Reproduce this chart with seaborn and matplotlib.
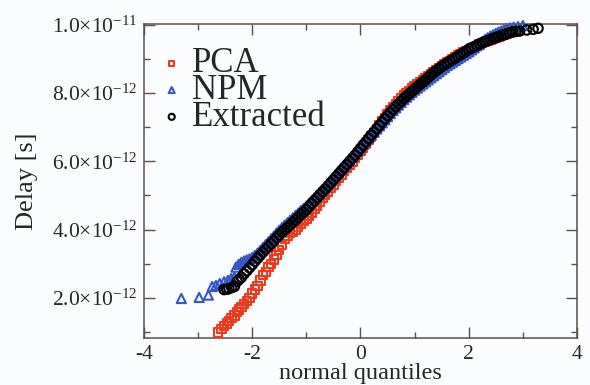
import numpy as np
import pandas as pd
import matplotlib
matplotlib.use("Agg")
import matplotlib.pyplot as plt
from matplotlib.ticker import MultipleLocator, FuncFormatter
import seaborn as sns

# delays in ps (1e-12 s), x = normal quantiles
pca_q = [-2.63, -2.57, -2.52, -2.47, -2.43, -2.38, -2.33, -2.28, -2.24, -2.20,
         -2.15, -2.10, -2.05, -2.00, -1.95, -1.90, -1.85, -1.80, -1.75, -1.70,
         -1.65, -1.60, -1.55, -1.50, -1.45, -1.40, -1.35, -1.30, -1.25, -1.20,
         -1.15, -1.10, -1.05, -1.00, -0.95, -0.90, -0.85, -0.80, -0.75, -0.70,
         -0.65, -0.60, -0.55, -0.50, -0.45, -0.40, -0.35, -0.30, -0.25, -0.20,
         -0.15, -0.10, -0.05, 0.00, 0.05, 0.10, 0.15, 0.20, 0.25, 0.30,
         0.35, 0.40, 0.45, 0.50, 0.55, 0.60, 0.65, 0.70, 0.75, 0.80,
         0.85, 0.90, 0.95, 1.00, 1.05, 1.10, 1.15, 1.20, 1.25, 1.30,
         1.35, 1.40, 1.45, 1.50, 1.55, 1.60, 1.65, 1.70, 1.75, 1.80,
         1.85, 1.90, 1.95, 2.00, 2.05, 2.10, 2.15, 2.20, 2.25, 2.30,
         2.35, 2.40, 2.45, 2.50, 2.55, 2.60, 2.65, 2.70, 2.76, 2.83, 2.90]
pca_ps = [0.98, 1.08, 1.17, 1.25, 1.32, 1.40, 1.48, 1.58, 1.66, 1.73,
          1.81, 1.90, 2.00, 2.13, 2.24, 2.35, 2.51, 2.66, 2.76, 2.90,
          3.00, 3.12, 3.26, 3.40, 3.55, 3.72, 3.82, 3.89, 3.94, 3.99,
          4.07, 4.16, 4.25, 4.32, 4.40, 4.50, 4.60, 4.70, 4.81, 4.92,
          5.02, 5.12, 5.22, 5.32, 5.42, 5.52, 5.61, 5.71, 5.80, 5.90,
          6.00, 6.10, 6.20, 6.30, 6.41, 6.52, 6.62, 6.73, 6.84, 6.95,
          7.06, 7.17, 7.28, 7.39, 7.49, 7.59, 7.68, 7.77, 7.85, 7.93,
          8.00, 8.07, 8.14, 8.20, 8.26, 8.32, 8.38, 8.44, 8.50, 8.56,
          8.62, 8.68, 8.74, 8.80, 8.85, 8.90, 8.95, 9.00, 9.05, 9.10,
          9.15, 9.19, 9.23, 9.27, 9.31, 9.35, 9.39, 9.43, 9.46, 9.49,
          9.52, 9.55, 9.58, 9.61, 9.64, 9.67, 9.70, 9.73, 9.76, 9.80, 9.83]

npm_q = [-3.31, -2.98, -2.81, -2.74, -2.67, -2.60, -2.52, -2.45, -2.39, -2.33,
         -2.30, -2.25, -2.20, -2.15, -2.10, -2.05, -2.00, -1.95, -1.90, -1.85,
         -1.80, -1.75, -1.70, -1.65, -1.60, -1.55, -1.50, -1.45, -1.40, -1.35,
         -1.30, -1.25, -1.20, -1.15, -1.10, -1.05, -1.00, -0.95, -0.90, -0.85,
         -0.80, -0.75, -0.70, -0.65, -0.60, -0.55, -0.50, -0.45, -0.40, -0.35,
         -0.30, -0.25, -0.20, -0.15, -0.10, -0.05, 0.00, 0.05, 0.10, 0.15,
         0.20, 0.25, 0.30, 0.35, 0.40, 0.45, 0.50, 0.55, 0.60, 0.65,
         0.70, 0.75, 0.80, 0.85, 0.90, 0.95, 1.00, 1.05, 1.10, 1.15,
         1.20, 1.25, 1.30, 1.35, 1.40, 1.45, 1.50, 1.55, 1.60, 1.65,
         1.70, 1.75, 1.80, 1.85, 1.90, 1.95, 2.00, 2.05, 2.10, 2.15,
         2.20, 2.25, 2.30, 2.35, 2.40, 2.45, 2.50, 2.55, 2.60, 2.65,
         2.70, 2.76, 2.83, 2.91, 3.00]
npm_ps = [1.98, 2.01, 2.08, 2.33, 2.36, 2.42, 2.47, 2.51, 2.56, 2.60,
          2.90, 2.98, 3.04, 3.08, 3.11, 3.14, 3.18, 3.24, 3.31, 3.39,
          3.48, 3.56, 3.64, 3.73, 3.81, 3.90, 3.98, 4.06, 4.13, 4.20,
          4.27, 4.34, 4.41, 4.48, 4.56, 4.62, 4.69, 4.77, 4.85, 4.93,
          5.01, 5.09, 5.17, 5.25, 5.33, 5.42, 5.51, 5.59, 5.68, 5.76,
          5.85, 5.94, 6.03, 6.12, 6.21, 6.30, 6.40, 6.49, 6.58, 6.68,
          6.77, 6.86, 6.95, 7.04, 7.13, 7.22, 7.31, 7.40, 7.49, 7.57,
          7.65, 7.73, 7.81, 7.88, 7.95, 8.02, 8.09, 8.15, 8.21, 8.27,
          8.33, 8.39, 8.45, 8.51, 8.57, 8.63, 8.69, 8.75, 8.81, 8.86,
          8.91, 8.96, 9.01, 9.06, 9.11, 9.16, 9.21, 9.27, 9.33, 9.39,
          9.45, 9.51, 9.57, 9.62, 9.67, 9.71, 9.75, 9.79, 9.82, 9.85,
          9.88, 9.91, 9.93, 9.95, 9.98]

ext_q = [-2.52, -2.47, -2.43, -2.38, -2.33, -2.28, -2.24, -2.20, -2.15, -2.10,
         -2.05, -2.00, -1.95, -1.90, -1.85, -1.80, -1.75, -1.70, -1.65, -1.60,
         -1.55, -1.50, -1.45, -1.40, -1.35, -1.30, -1.25, -1.20, -1.15, -1.10,
         -1.05, -1.00, -0.95, -0.90, -0.85, -0.80, -0.75, -0.70, -0.65, -0.60,
         -0.55, -0.50, -0.45, -0.40, -0.35, -0.30, -0.25, -0.20, -0.15, -0.10,
         -0.05, 0.00, 0.05, 0.10, 0.15, 0.20, 0.25, 0.30, 0.35, 0.40,
         0.45, 0.50, 0.55, 0.60, 0.65, 0.70, 0.75, 0.80, 0.85, 0.90,
         0.95, 1.00, 1.05, 1.10, 1.15, 1.20, 1.25, 1.30, 1.35, 1.40,
         1.45, 1.50, 1.55, 1.60, 1.65, 1.70, 1.75, 1.80, 1.85, 1.90,
         1.95, 2.00, 2.05, 2.10, 2.15, 2.20, 2.25, 2.30, 2.35, 2.40,
         2.45, 2.50, 2.55, 2.60, 2.65, 2.70, 2.75, 2.81, 2.87, 2.94,
         3.07, 3.19, 3.28]
ext_ps = [2.24, 2.25, 2.27, 2.30, 2.33, 2.48, 2.54, 2.60, 2.70, 2.79,
          2.88, 2.97, 3.07, 3.16, 3.25, 3.34, 3.42, 3.50, 3.59, 3.67,
          3.76, 3.84, 3.92, 3.99, 4.06, 4.13, 4.21, 4.28, 4.36, 4.44,
          4.51, 4.58, 4.67, 4.76, 4.84, 4.93, 5.02, 5.11, 5.19, 5.28,
          5.37, 5.46, 5.55, 5.64, 5.73, 5.82, 5.91, 6.00, 6.09, 6.18,
          6.28, 6.38, 6.48, 6.57, 6.67, 6.77, 6.86, 6.96, 7.05, 7.15,
          7.25, 7.34, 7.43, 7.52, 7.60, 7.68, 7.76, 7.84, 7.91, 7.98,
          8.05, 8.12, 8.19, 8.26, 8.32, 8.39, 8.46, 8.53, 8.60, 8.66,
          8.72, 8.78, 8.83, 8.88, 8.93, 8.98, 9.03, 9.08, 9.13, 9.18,
          9.23, 9.28, 9.32, 9.36, 9.40, 9.44, 9.48, 9.51, 9.54, 9.57,
          9.60, 9.63, 9.66, 9.69, 9.71, 9.74, 9.77, 9.80, 9.81, 9.82,
          9.85, 9.87, 9.90]

sns.set_style("ticks")
plt.rcParams["font.family"] = ["Liberation Serif", "DejaVu Serif"]
plt.rcParams["mathtext.fontset"] = "custom"
plt.rcParams["mathtext.rm"] = "Liberation Serif"
plt.rcParams["mathtext.it"] = "Liberation Serif:italic"

frame = "#5e4e48"
bg = "#fbfcfe"

fig = plt.figure(figsize=(5.9, 3.85), dpi=100, facecolor=bg)
ax = fig.add_axes([0.244, 0.122, 0.734, 0.816])
ax.set_facecolor(bg)

series = [
    ("PCA", pca_q, pca_ps, "s", "#ee3a1f", 36),
    ("NPM", npm_q, npm_ps, "^", "#3557c8", 44),
    ("Extracted", ext_q, ext_ps, "o", "black", 46),
]
for name, q, ps, mk, col, size in series:
    df = pd.DataFrame({"q": q, "delay": np.array(ps) * 1e-12})
    sns.scatterplot(data=df, x="q", y="delay", ax=ax, marker=mk, s=size,
                    facecolor="none", edgecolor=col, linewidth=1.5,
                    label=name, clip_on=False, zorder=3)

ax.set_xlim(-4, 4)
ax.set_ylim(0.82e-12, 10.03e-12)
ax.xaxis.set_major_locator(MultipleLocator(2))
ax.xaxis.set_minor_locator(MultipleLocator(1))
ax.yaxis.set_major_locator(MultipleLocator(2e-12))
ax.yaxis.set_minor_locator(MultipleLocator(1e-12))


def sci(v, pos):
    if v <= 0:
        return ""
    e = int(np.floor(np.log10(v) + 1e-9))
    m = v / 10.0 ** e
    return r"$%.1f{\times}10^{%d}$" % (m, e)


ax.yaxis.set_major_formatter(FuncFormatter(sci))
ax.xaxis.set_major_formatter(FuncFormatter(lambda v, p: "%d" % v))

ax.tick_params(which="both", direction="in", top=True, right=True,
               color=frame, width=1.0, labelsize=15.5, pad=5)
ax.tick_params(which="major", length=8)
ax.tick_params(which="minor", length=4)
for sp in ax.spines.values():
    sp.set_color(frame)
    sp.set_linewidth(1.1)

ax.set_xlabel("normal quantiles", fontsize=17.5)
ax.set_ylabel("Delay [s]", fontsize=19)
ax.xaxis.set_label_coords(0.5, -0.08)
ax.yaxis.set_label_coords(-0.245, 0.5)

ax.legend(loc="upper left", bbox_to_anchor=(0.03, 0.925), frameon=False,
          fontsize=25, handlelength=0.85, handletextpad=0.15,
          labelspacing=-0.18, borderpad=0, borderaxespad=0, scatterpoints=1,
          markerscale=0.65)

fig.savefig("out.png", dpi=100, facecolor=bg)
